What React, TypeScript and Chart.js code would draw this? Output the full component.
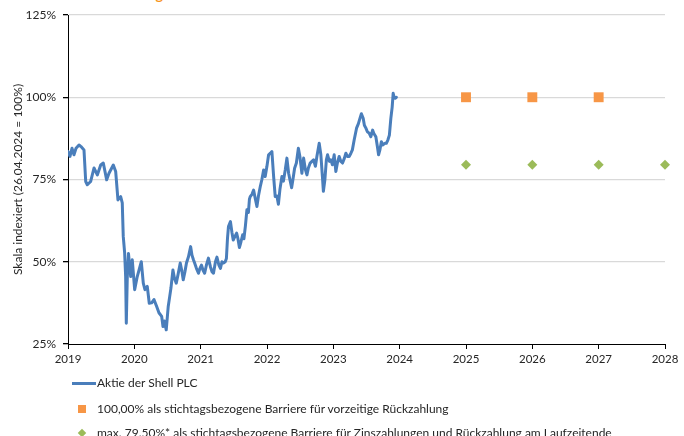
import React, { useEffect, useRef } from "react";
import { Chart, registerables } from "chart.js";

Chart.register(...registerables);

// ---- Data ----
const shellYears = [
  2019.0, 2019.03, 2019.06, 2019.09, 2019.121, 2019.166, 2019.196, 2019.241, 2019.267, 2019.291,
  2019.342, 2019.392, 2019.442, 2019.493, 2019.532, 2019.583, 2019.618, 2019.683, 2019.719, 2019.753,
  2019.794, 2019.818, 2019.833, 2019.854, 2019.869, 2019.879, 2019.894, 2019.912, 2019.945, 2019.969,
  2020.005, 2020.044, 2020.105, 2020.135, 2020.16, 2020.195, 2020.225, 2020.261, 2020.296, 2020.337,
  2020.371, 2020.412, 2020.432, 2020.454, 2020.481, 2020.511, 2020.533, 2020.552, 2020.582, 2020.605,
  2020.632, 2020.658, 2020.692, 2020.718, 2020.737, 2020.763, 2020.786, 2020.816, 2020.849, 2020.869,
  2020.891, 2020.909, 2020.936, 2020.967, 2020.989, 2021.012, 2021.034, 2021.06, 2021.087, 2021.117,
  2021.147, 2021.17, 2021.193, 2021.223, 2021.245, 2021.275, 2021.298, 2021.321, 2021.343, 2021.37,
  2021.388, 2021.404, 2021.419, 2021.449, 2021.471, 2021.491, 2021.517, 2021.542, 2021.562, 2021.584,
  2021.607, 2021.633, 2021.652, 2021.675, 2021.697, 2021.72, 2021.735, 2021.747, 2021.773, 2021.798,
  2021.825, 2021.848, 2021.871, 2021.898, 2021.923, 2021.949, 2021.973, 2021.999, 2022.024, 2022.051,
  2022.074, 2022.1, 2022.124, 2022.149, 2022.172, 2022.195, 2022.225, 2022.247, 2022.275, 2022.3,
  2022.326, 2022.345, 2022.371, 2022.391, 2022.416, 2022.443, 2022.473, 2022.496, 2022.526, 2022.552,
  2022.579, 2022.602, 2022.624, 2022.651, 2022.677, 2022.702, 2022.73, 2022.752, 2022.787, 2022.812,
  2022.835, 2022.85, 2022.873, 2022.895, 2022.913, 2022.941, 2022.963, 2022.986, 2023.013, 2023.038,
  2023.061, 2023.088, 2023.114, 2023.139, 2023.167, 2023.189, 2023.212, 2023.239, 2023.265, 2023.287,
  2023.314, 2023.35, 2023.378, 2023.4, 2023.423, 2023.45, 2023.468, 2023.491, 2023.513, 2023.54,
  2023.566, 2023.592, 2023.611, 2023.641, 2023.664, 2023.682, 2023.702, 2023.724, 2023.747, 2023.777,
  2023.799, 2023.822, 2023.845, 2023.867, 2023.887, 2023.902, 2023.917, 2023.932, 2023.95,
];
const shellValues = [
  83.5, 82, 84.5, 82.5, 84.5, 85.5, 85, 84, 74.4, 73.4,
  74.4, 78.5, 76.4, 79.4, 80, 74.9, 76.9, 79.4, 77.4, 68.8,
  69.8, 67.9, 57.7, 52.7, 45.5, 31.3, 45.5, 52.5, 45.5, 50.6,
  41.5, 45.5, 50, 43.5, 41.5, 42.5, 37.4, 37.5, 38.5, 36.4,
  34.5, 33.4, 30.3, 32, 29.3, 36.4, 39.4, 42, 47.5, 45,
  43.5, 46, 49.6, 47, 44.5, 47, 49.6, 51.5, 54.6, 52,
  50.6, 49.6, 48, 46.5, 48, 49, 47.5, 46.5, 49, 51.1,
  48.5, 47, 46.5, 50, 51.4, 49, 48, 50, 49.6, 50,
  51, 57, 60.7, 62.2, 59, 56.6, 57.7, 58.7, 57, 54.3,
  56, 58.2, 57, 61, 65.8, 65, 69, 69.8, 70.5, 71.8,
  69, 66.8, 70, 72.8, 75, 77.9, 75.9, 79, 82.5, 83,
  83.5, 75.9, 69.8, 70, 67.5, 72, 75.9, 74.5, 77.9, 81.5,
  76.9, 75, 72.5, 75, 78.4, 80, 84.5, 82, 76.9, 81.5,
  78, 76.4, 78.5, 80, 80.5, 81, 79, 82, 86, 82.5,
  76, 71.4, 75, 81, 82.5, 80.5, 81, 79.5, 82.5, 77.4,
  80, 82, 80.5, 80, 81.5, 83, 82, 82, 83, 84,
  87, 90.6, 92, 93.5, 95, 93.6, 91.5, 90.6, 89.5, 89.1,
  88, 90, 89, 88, 85, 82.5, 84, 86.5, 85.5, 86,
  86, 87, 88.5, 93.6, 97, 101.2, 100, 99.7, 100,
];

const earlyRedemptionYears = [2025, 2026, 2027];
const earlyRedemptionBarrier = [100, 100, 100];

const couponYears = [2025, 2026, 2027, 2028];
const couponBarrier = [79.5, 79.5, 79.5, 79.5];

const xAxisMin = 2019;
const xAxisMax = 2028;
const yAxisMin = 25;
const yAxisMax = 125;
const yAxisStep = 25;

const seriesLabels = [
  "Aktie der Shell PLC",
  "100,00% als stichtagsbezogene Barriere für vorzeitige Rückzahlung",
  "max. 79.50%* als stichtagsbezogene Barriere für Zinszahlungen und Rückzahlung am Laufzeitende",
];
const yAxisTitle = "Skala indexiert (26.04.2024 = 100%)";
const headerFragment = "Kursentwicklung";

const BLUE = "#4a7ebb";
const ORANGE = "#f79646";
const GREEN = "#9bbb59";
const FONT = "Lato, 'Liberation Sans', sans-serif";
const TEXT = "#262626";

export default function App() {
  const canvasRef = useRef<HTMLCanvasElement | null>(null);

  useEffect(() => {
    const canvas = canvasRef.current;
    if (!canvas) return;
    const chart = new Chart(canvas, {
      type: "line",
      data: {
        datasets: [
          {
            label: seriesLabels[0],
            data: shellYears.map((x, i) => ({ x, y: shellValues[i] })),
            borderColor: BLUE,
            backgroundColor: BLUE,
            borderWidth: 3,
            pointRadius: 0,
            tension: 0,
            borderJoinStyle: "round",
            borderCapStyle: "round",
          },
          {
            label: seriesLabels[1],
            data: earlyRedemptionYears.map((x, i) => ({ x, y: earlyRedemptionBarrier[i] })),
            showLine: false,
            pointStyle: "rect",
            pointRadius: 7,
            pointBackgroundColor: ORANGE,
            pointBorderColor: ORANGE,
            pointBorderWidth: 0,
            borderColor: ORANGE,
            backgroundColor: ORANGE,
            clip: false,
          },
          {
            label: seriesLabels[2],
            data: couponYears.map((x, i) => ({ x, y: couponBarrier[i] })),
            showLine: false,
            pointStyle: "rectRot",
            pointRadius: 5,
            pointBackgroundColor: GREEN,
            pointBorderColor: GREEN,
            pointBorderWidth: 0,
            borderColor: GREEN,
            backgroundColor: GREEN,
            clip: false,
          },
        ],
      },
      options: {
        animation: false,
        responsive: false,
        maintainAspectRatio: false,
        devicePixelRatio: 1,
        layout: { padding: { left: 0, top: 15, right: 19, bottom: 0 } },
        plugins: {
          legend: { display: false },
          tooltip: { enabled: false },
          title: { display: false },
        },
        scales: {
          x: {
            type: "linear",
            min: xAxisMin,
            max: xAxisMax,
            afterFit: (s: any) => {
              s.height = 92;
            },
            ticks: {
              stepSize: 1,
              autoSkip: false,
              maxRotation: 0,
              padding: 3,
              color: TEXT,
              font: { family: FONT, size: 11.5 },
              callback: (v: any) => String(v),
            },
            grid: {
              drawOnChartArea: false,
              drawTicks: true,
              tickLength: 5,
              tickColor: "#000",
              color: "#000",
            },
            border: { display: true, color: "#000", width: 1 },
          },
          y: {
            type: "linear",
            min: yAxisMin,
            max: yAxisMax,
            afterFit: (s: any) => {
              s.width = 68;
            },
            ticks: {
              stepSize: yAxisStep,
              padding: 7,
              color: TEXT,
              font: { family: FONT, size: 12 },
              callback: (v: any) => `${v}%`,
            },
            grid: {
              color: (ctx: any) => (ctx.tick && ctx.tick.value === yAxisMin ? "rgba(0,0,0,0)" : "#d9d9d9"),
              lineWidth: 1.3,
              drawTicks: true,
              tickLength: 5,
              tickColor: "#000",
            },
            border: { display: true, color: "#000", width: 1 },
            title: {
              display: true,
              text: yAxisTitle,
              color: TEXT,
              font: { family: FONT, size: 12 },
              padding: { top: 11, bottom: 0 },
            },
          },
        },
      },
    });
    return () => chart.destroy();
  }, []);

  const textStyle: React.CSSProperties = {
    position: "absolute",
    left: 97,
    fontFamily: FONT,
    fontSize: 12,
    lineHeight: "14px",
    color: TEXT,
    whiteSpace: "nowrap",
  };

  return (
    <div
      style={{
        position: "fixed",
        left: 0,
        top: 0,
        width: 684,
        height: 436,
        background: "#fff",
        overflow: "hidden",
      }}
    >
      <div
        style={{
          position: "absolute",
          left: 0,
          top: -12,
          width: 163,
          textAlign: "right",
          fontFamily: FONT,
          fontWeight: 700,
          fontSize: 14,
          lineHeight: "14px",
          color: "#f7941d",
          whiteSpace: "nowrap",
        }}
      >
        {headerFragment}
      </div>
      <canvas
        ref={canvasRef}
        width={684}
        height={436}
        style={{ position: "absolute", left: 0, top: 0, width: 684, height: 436 }}
      />
      <div style={{ position: "absolute", left: 72, top: 382, width: 24, height: 3, background: BLUE }} />
      <div style={{ ...textStyle, top: 376 }}>{seriesLabels[0]}</div>
      <div style={{ position: "absolute", left: 78, top: 405, width: 8, height: 8, background: ORANGE }} />
      <div style={{ ...textStyle, top: 402 }}>{seriesLabels[1]}</div>
      <div
        style={{
          position: "absolute",
          left: 79,
          top: 430,
          width: 6,
          height: 6,
          background: GREEN,
          transform: "rotate(45deg)",
        }}
      />
      <div style={{ ...textStyle, top: 426 }}>{seriesLabels[2]}</div>
    </div>
  );
}
